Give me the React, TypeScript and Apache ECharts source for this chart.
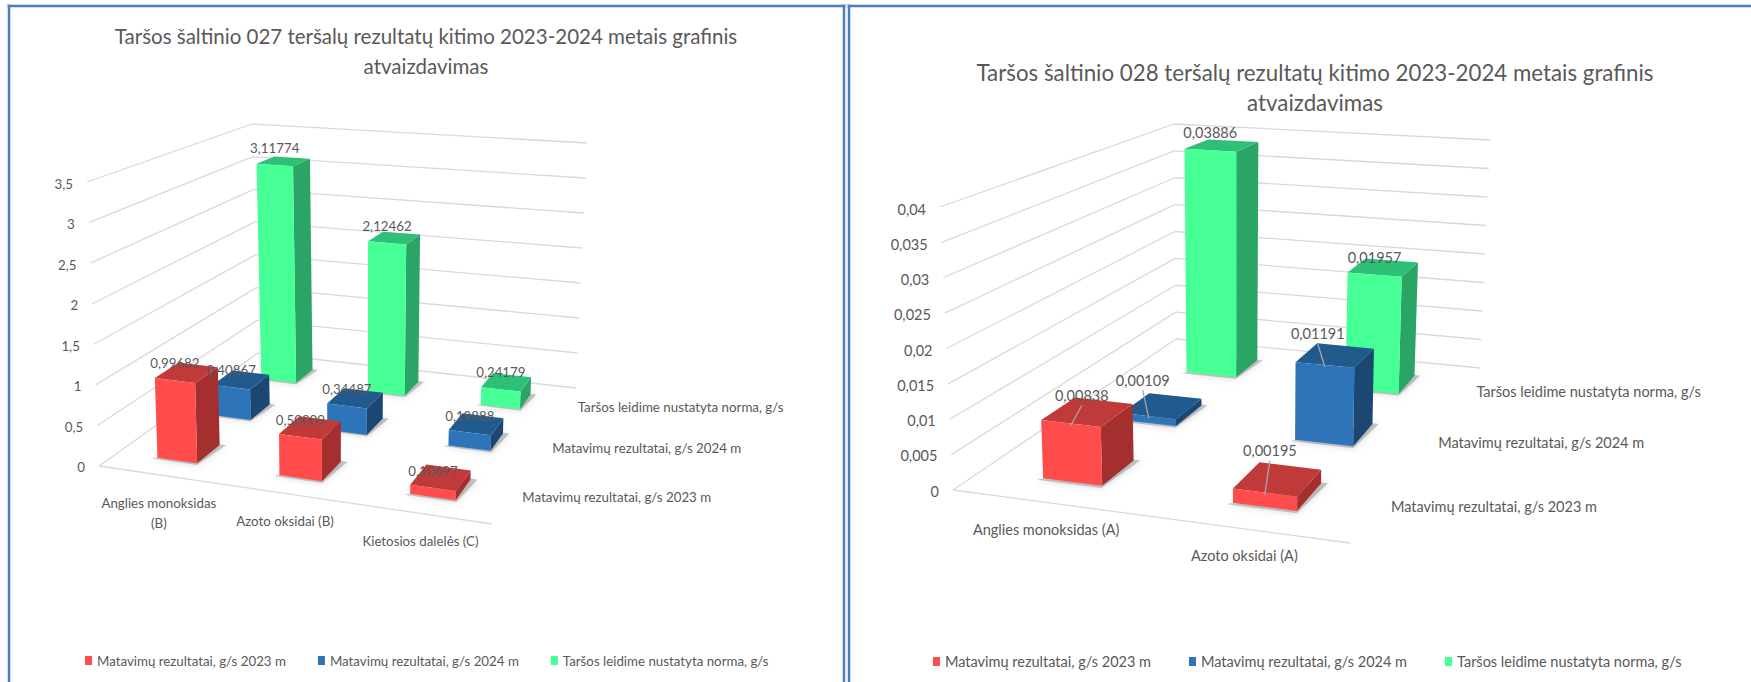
import React, { useEffect, useRef } from "react";
import * as echarts from "echarts";

// ---- data ----
const seriesNames = [
  "Matavimų rezultatai, g/s 2023 m",
  "Matavimų rezultatai, g/s 2024 m",
  "Taršos leidime nustatyta norma, g/s",
];
const title027 = "Taršos šaltinio 027 teršalų rezultatų kitimo 2023-2024 metais grafinis\natvaizdavimas";
const categories027 = ["Anglies monoksidas\n(B)", "Azoto oksidai (B)", "Kietosios dalelės (C)"];
const ticks027 = [0, 0.5, 1, 1.5, 2, 2.5, 3, 3.5];
const values027y2023 = [0.99682, 0.50009, 0.10697];
const values027y2024 = [0.40867, 0.34487, 0.19888];
const values027norm = [3.11774, 2.12462, 0.24179];

const title028 = "Taršos šaltinio 028 teršalų rezultatų kitimo 2023-2024 metais grafinis\natvaizdavimas";
const categories028 = ["Anglies monoksidas (A)", "Azoto oksidai (A)"];
const ticks028 = [0, 0.005, 0.01, 0.015, 0.02, 0.025, 0.03, 0.035, 0.04];
const values028y2023 = [0.00838, 0.00195];
const values028y2024 = [0.00109, 0.01191];
const values028norm = [0.03886, 0.01957];

// ---- styles ----
const FONT = "Lato, Carlito, sans-serif";
const TEXT = "#595959";
const WALL = "#D9D9D9";
const FACE = [
  { front: "#FF4D4D", top: "#C03A3A", side: "#A52F2F" },
  { front: "#2E74B8", top: "#215A8C", side: "#1B4772" },
  { front: "#46FF95", top: "#2FC078", side: "#2AA565" },
];

type P = [number, number];
function makeProjector(o: { fl0: P; fr0: P; br0: P; bl0: P; fl1: P; bl1: P; br1: P }) {
  const { fl0, fr0, br0, bl0, fl1, bl1, br1 } = o;
  const dx1 = fr0[0] - br0[0], dx2 = bl0[0] - br0[0], sx = fl0[0] - fr0[0] + br0[0] - bl0[0];
  const dy1 = fr0[1] - br0[1], dy2 = bl0[1] - br0[1], sy = fl0[1] - fr0[1] + br0[1] - bl0[1];
  const det = dx1 * dy2 - dx2 * dy1;
  const g = (sx * dy2 - dx2 * sy) / det;
  const h = (dx1 * sy - sx * dy1) / det;
  const wBL = 1 + h, wBR = 1 + g + h;
  const floor = (i: number) => ({
    c: fl0[i],
    a: fr0[i] * (1 + g) - fl0[i],
    b: bl0[i] * wBL - fl0[i],
  });
  const top = (i: number) => ({
    c: fl1[i],
    b: bl1[i] * wBL - fl1[i],
    a: br1[i] * wBR - bl1[i] * wBL,
  });
  const F = [floor(0), floor(1)];
  const T = [top(0), top(1)];
  return (u: number, v: number, t: number): P => {
    const w = 1 + g * u + h * v;
    const at = (i: number) => {
      const fv = F[i].a * u + F[i].b * v + F[i].c;
      const tv = T[i].a * u + T[i].b * v + T[i].c;
      return (fv + (tv - fv) * t) / w;
    };
    return [at(0), at(1)];
  };
}

type PanelCfg = {
  originX: number;
  width: number;
  title: string;
  titleX: number;
  titleTop: number;
  titleSize: number;
  fontSize: number;
  categories: string[];
  ticks: number[];
  series: number[][];
  corners: any;
  legendLeft: number;
  legendGap: number;
  nudge: ([number, number] | null)[][];
  leader: boolean;
  catDy: number;
  serDx: number;
  barScale: number;
};

const panels: PanelCfg[] = [
  {
    originX: 0,
    width: 847,
    title: title027,
    titleX: 421,
    titleTop: 16,
    titleSize: 20.5,
    fontSize: 13.3,
    categories: categories027,
    ticks: ticks027,
    series: [values027y2023, values027y2024, values027norm],
    corners: {
      fl0: [99, 466], fr0: [492, 524], br0: [576, 388], bl0: [258, 353],
      fl1: [87, 182], bl1: [252, 124], br1: [587, 143],
    },
    legendLeft: 80,
    legendGap: 32,
    nudge: [[null, null, null], [null, null, null], [null, null, null]],
    leader: false,
    catDy: 28,
    serDx: 13,
    barScale: 1,
  },
  {
    originX: 847,
    width: 904,
    title: title028,
    titleX: 1310,
    titleTop: 52,
    titleSize: 22.3,
    fontSize: 14.5,
    categories: categories028,
    ticks: ticks028,
    series: [values028y2023, values028y2024, values028norm],
    corners: {
      fl0: [953, 490], fr0: [1350, 543], br0: [1480, 368], bl0: [1176, 339],
      fl1: [940, 207], bl1: [1174, 124], br1: [1490, 140],
    },
    legendLeft: 928,
    legendGap: 38,
    nudge: [
      [[11, -28], [5, -42]],
      [[-6, -36], [-7, -31]],
      [[0, -18], [0, -17]],
    ],
    leader: true,
    catDy: 27,
    serDx: 13,
    barScale: 0.96,
  },
];

const fmt = (n: number) => String(n).replace(".", ",");

function buildOption(p: PanelCfg) {
  const project0 = makeProjector(p.corners);
  const project = (u: number, v: number, t: number): P => {
    const q = project0(u, v, t);
    return [q[0] - p.originX, q[1]];
  };
  const nCat = p.categories.length;
  const maxV = p.ticks[p.ticks.length - 1];
  const frac = (api: any, val: number) => {
    const y0 = api.coord([0, 0])[1];
    const y1 = api.coord([0, maxV])[1];
    return (y0 - api.coord([0, val])[1]) / (y0 - y1);
  };
  const barHalfU = (p.barScale * (1 / nCat)) / 6;
  const barHalfV = 1 / 3 / 5;
  const txt = (x: number, y: number, text: string, align: string, size = p.fontSize) => ({
    type: "text",
    x,
    y,
    silent: true,
    style: {
      text,
      fill: TEXT,
      font: `${size}px ${FONT}`,
      align,
      textAlign: align,
      verticalAlign: "middle",
      textBaseline: "middle",
      lineHeight: 20,
    },
  });
  const line = (a: P, b: P) => ({
    type: "line",
    silent: true,
    shape: { x1: a[0], y1: a[1], x2: b[0], y2: b[1] },
    style: { stroke: WALL, lineWidth: 1.3 },
  });

  const wallSeries = {
    type: "custom",
    name: "walls",
    coordinateSystem: "cartesian2d",
    silent: true,
    encode: { x: 0, y: 1 },
    data: p.ticks.map((t) => [0, t]),
    renderItem: (_: any, api: any) => {
      const val = api.value(1);
      const t = frac(api, val);
      const children: any[] = [
        line(project(0, 0, t), project(0, 1, t)),
        line(project(0, 1, t), project(1, 1, t)),
      ];
      if (val === 0) children.push(line(project(0, 0, 0), project(1, 0, 0)));
      const q = project(0, 0, t);
      children.push(txt(q[0] - 14, q[1] + 1 + t, fmt(val), "right"));
      return { type: "group", children };
    },
  };

  const barSeries = [2, 1, 0].map((r) => ({
    type: "custom",
    name: seriesNames[r],
    coordinateSystem: "cartesian2d",
    silent: true,
    itemStyle: { color: FACE[r].front },
    encode: { x: 0, y: 1 },
    data: p.series[r].map((v, i) => [i, v]),
    renderItem: (_: any, api: any) => {
      const cat = api.value(0);
      const t = frac(api, api.value(1));
      const uc = (cat + 0.5) / nCat;
      const vc = (r + 0.5) / 3;
      const u0 = uc - barHalfU, u1 = uc + barHalfU;
      const v0 = vc - barHalfV, v1 = vc + barHalfV;
      const poly = (pts: P[], fill: string, extra: any = {}) => ({
        type: "polygon",
        silent: true,
        shape: { points: pts },
        style: { fill, ...extra },
      });
      return {
        type: "group",
        children: [
          poly(
            [
              project(u0 - 0.01, v0 - 0.01, 0),
              project(u1 + 0.004, v0 - 0.01, 0),
              project(u1 + 0.016, v1 + 0.004, 0),
              project(u1, v1 + 0.004, 0),
            ],
            "rgba(120,120,120,0.4)",
            { shadowBlur: 7, shadowColor: "rgba(110,110,110,0.65)" },
          ),
          poly([project(u1, v0, 0), project(u1, v1, 0), project(u1, v1, t), project(u1, v0, t)], FACE[r].side),
          poly([project(u0, v0, t), project(u1, v0, t), project(u1, v1, t), project(u0, v1, t)], FACE[r].top),
          poly([project(u0, v0, 0), project(u1, v0, 0), project(u1, v0, t), project(u0, v0, t)], FACE[r].front),
        ],
      };
    },
  }));

  const labelData: number[][] = [];
  [2, 1, 0].forEach((r) => p.series[r].forEach((v, i) => labelData.push([i, v, r])));
  const labelSeries = {
    type: "custom",
    name: "labels",
    coordinateSystem: "cartesian2d",
    silent: true,
    encode: { x: 0, y: 1 },
    data: labelData,
    renderItem: (_: any, api: any) => {
      const cat = api.value(0);
      const val = api.value(1);
      const r = api.value(2);
      const t = frac(api, val);
      const q = project((cat + 0.5) / nCat, (r + 0.5) / 3 - barHalfV, t);
      const n = p.nudge[r][cat] || [0, -17];
      const children: any[] = [];
      if (p.leader && r < 2) {
        children.push({
          type: "line",
          silent: true,
          shape: { x1: q[0] + n[0], y1: q[1] + n[1] + 10, x2: q[0], y2: q[1] + 2 },
          style: { stroke: "#A6A6A6", lineWidth: 1.3 },
        });
      }
      children.push(txt(q[0] + n[0], q[1] + n[1], fmt(val), "center"));
      return { type: "group", children };
    },
  };

  const axisLabelSeries = [
    {
      type: "custom",
      name: "categories",
      coordinateSystem: "cartesian2d",
      silent: true,
      encode: { x: 0, y: 1 },
      data: p.categories.map((_, i) => [i, 0]),
      renderItem: (_: any, api: any) => {
        const i = api.value(0);
        const q = project((i + 0.5) / nCat, 0, 0);
        const multi = p.categories[i].includes("\n");
        return txt(q[0], q[1] + p.catDy + (multi ? 10 : 0), p.categories[i], "center");
      },
    },
    {
      type: "custom",
      name: "depth",
      coordinateSystem: "cartesian2d",
      silent: true,
      encode: { x: 0, y: 1 },
      data: seriesNames.map((_, i) => [i, 0]),
      renderItem: (_: any, api: any) => {
        const i = api.value(0);
        const q = project(1, (i + 0.5) / 3, 0);
        return txt(q[0] + p.serDx, q[1] + 1, seriesNames[i], "left");
      },
    },
  ];

  return {
    animation: false,
    backgroundColor: "transparent",
    title: {
      text: p.title,
      left: p.titleX - p.originX,
      top: p.titleTop,
      textAlign: "center",
      textStyle: {
        color: TEXT,
        fontFamily: FONT,
        fontWeight: "normal",
        fontSize: p.titleSize,
        lineHeight: 30,
      },
    },
    legend: {
      data: seriesNames,
      left: p.legendLeft - p.originX,
      top: 649,
      icon: "rect",
      itemWidth: 7,
      itemHeight: 9,
      itemGap: p.legendGap,
      selectedMode: false,
      textStyle: { color: TEXT, fontFamily: FONT, fontSize: p.fontSize },
    },
    grid: { left: 10, right: 10, top: 100, height: 300 },
    xAxis: { type: "category", data: p.categories, show: false },
    yAxis: { type: "value", min: 0, max: maxV, show: false },
    series: [wallSeries, ...barSeries, ...axisLabelSeries, labelSeries],
  };
}

function Panel({ cfg }: { cfg: PanelCfg }) {
  const ref = useRef<HTMLDivElement>(null);
  useEffect(() => {
    const chart = echarts.init(ref.current!, undefined, { renderer: "svg" });
    chart.setOption(buildOption(cfg) as any);
    return () => chart.dispose();
  }, [cfg]);
  return (
    <div
      ref={ref}
      style={{ position: "absolute", left: cfg.originX, top: 0, width: cfg.width, height: 682 }}
    />
  );
}

const BLUE = "#4A7EBF";
const HALO = "0 0 1px 1px rgba(120,150,190,0.35)";
function Rule(props: { l: number; t: number; w: number; h: number }) {
  return (
    <div
      style={{
        position: "absolute",
        left: props.l,
        top: props.t,
        width: props.w,
        height: props.h,
        background: BLUE,
        boxShadow: HALO,
      }}
    />
  );
}

export default function App() {
  return (
    <div style={{ position: "fixed", left: 0, top: 0, width: 1751, height: 682, overflow: "hidden", background: "#fff" }}>
      <Rule l={8} t={5} w={2} h={677} />
      <Rule l={8} t={5} w={837} h={2} />
      <Rule l={843} t={5} w={2} h={677} />
      <Rule l={848} t={5} w={2} h={677} />
      <Rule l={848} t={5} w={903} h={2} />
      {panels.map((c) => (
        <Panel key={c.originX} cfg={c} />
      ))}
    </div>
  );
}
